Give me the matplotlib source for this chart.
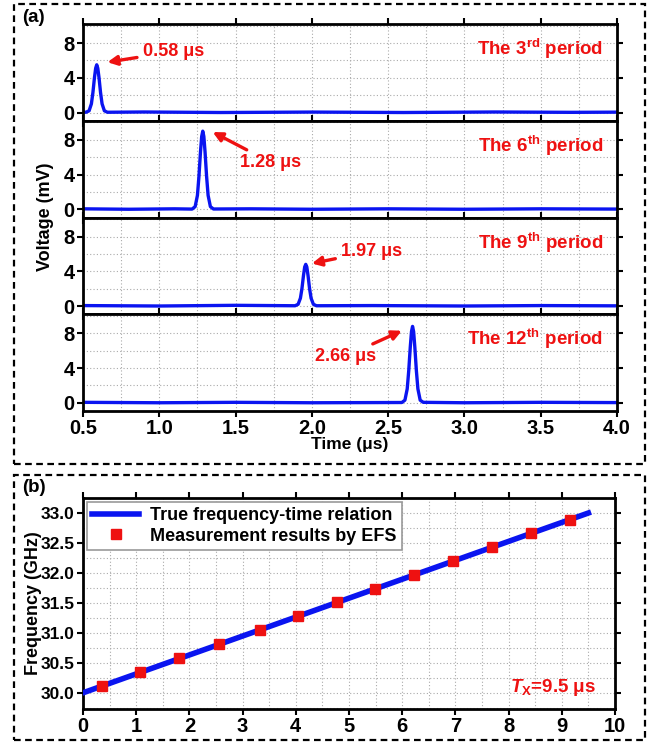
import matplotlib
matplotlib.use("Agg")
import matplotlib.pyplot as plt
from matplotlib.patches import Rectangle
from matplotlib.ticker import MultipleLocator, FormatStrFormatter

plt.rcParams['font.family'] = ['Liberation Sans', 'DejaVu Sans']
plt.rcParams['font.weight'] = 'bold'
plt.rcParams['mathtext.fontset'] = 'custom'
plt.rcParams['mathtext.rm'] = 'Liberation Sans:bold'
plt.rcParams['mathtext.bf'] = 'Liberation Sans:bold'
plt.rcParams['mathtext.it'] = 'Liberation Sans:bold:italic'

# Panel (a): received pulses in four periods
t_p3 = [0.50, 0.52, 0.54, 0.555, 0.565, 0.575, 0.583, 0.59, 0.597, 0.605, 0.615, 0.625, 0.64, 0.66,
        0.9, 1.4, 2.0, 2.6, 3.2, 3.7, 4.0]
v_p3 = [0.05, 0.03, 0.2, 1.0, 2.3, 4.0, 5.1, 5.5, 5.1, 4.0, 2.3, 1.0, 0.2, 0.03,
        0.06, 0.0, 0.05, 0.0, 0.06, 0.02, 0.04]
t_p6 = [0.5, 0.8, 1.1, 1.215, 1.235, 1.25, 1.26, 1.27, 1.278, 1.285, 1.292, 1.30, 1.31, 1.32, 1.335, 1.355,
        1.6, 2.0, 2.5, 3.0, 3.5, 4.0]
v_p6 = [0.05, 0.0, 0.05, 0.02, 0.3, 1.6, 3.8, 6.6, 8.4, 9.0, 8.4, 6.6, 3.8, 1.6, 0.3, 0.03,
        0.05, 0.0, 0.05, 0.0, 0.05, 0.02]
t_p9 = [0.5, 1.0, 1.5, 1.89, 1.91, 1.925, 1.935, 1.945, 1.953, 1.96, 1.967, 1.975, 1.985, 1.995, 2.01, 2.03,
        2.4, 3.0, 3.5, 4.0]
v_p9 = [0.05, 0.0, 0.08, 0.03, 0.2, 0.9, 2.0, 3.5, 4.5, 4.8, 4.5, 3.5, 2.0, 0.9, 0.2, 0.03,
        0.05, 0.0, 0.05, 0.02]
t_p12 = [0.5, 1.0, 1.5, 2.0, 2.59, 2.61, 2.625, 2.635, 2.645, 2.653, 2.66, 2.667, 2.675, 2.685, 2.695, 2.71, 2.73,
         3.0, 3.5, 4.0]
v_p12 = [0.05, 0.0, 0.05, 0.0, 0.03, 0.3, 1.6, 3.7, 6.4, 8.2, 8.8, 8.2, 6.4, 3.7, 1.6, 0.3, 0.05,
         0.0, 0.05, 0.02]

period_labels = [r'The 3$^{\mathrm{rd}}$ period', r'The 6$^{\mathrm{th}}$ period',
                 r'The 9$^{\mathrm{th}}$ period', r'The 12$^{\mathrm{th}}$ period']
peak_labels = ['0.58 μs', '1.28 μs', '1.97 μs', '2.66 μs']
arrow_heads = [(0.66, 5.8), (1.35, 8.9), (2.0, 4.9), (2.59, 8.3)]
label_pos = [(0.89, 7.0), (1.53, 5.4), (2.19, 6.3), (2.42, 5.35)]
label_ha = ['left', 'left', 'left', 'right']

# Panel (b): frequency vs time
true_t = [0.0, 9.5]
true_f = [30.0, 33.0]
meas_t = [0.35, 1.08, 1.81, 2.55, 3.32, 4.04, 4.77, 5.49, 6.22, 6.96, 7.68, 8.42, 9.15]
meas_f = [30.11, 30.35, 30.58, 30.81, 31.05, 31.28, 31.51, 31.74, 31.97, 32.20, 32.43, 32.66, 32.89]

W, H = 648, 743
fig = plt.figure(figsize=(W / 100, H / 100), dpi=100)

red = '#ee1111'
blue = '#0a14f0'

# dashed boxes around panels
for (x0, y0, x1, y1) in [(14, 4, 645, 464), (14, 475, 645, 740)]:
    fig.add_artist(Rectangle((x0 / W, 1 - y1 / H), (x1 - x0) / W, (y1 - y0) / H,
                             transform=fig.transFigure, fill=False, ls=(0, (3, 2)),
                             lw=1.6, ec='black'))

fig.text(22 / W, 1 - 18 / H, '(a)', fontsize=13.5, fontweight='bold', va='center', ha='left')
fig.text(22 / W, 1 - 488 / H, '(b)', fontsize=13.5, fontweight='bold', va='center', ha='left')

left = 83 / W
width = 534 / W
top_px, bot_px = 24, 411
ph = (bot_px - top_px) / 4
traces = [(t_p3, v_p3), (t_p6, v_p6), (t_p9, v_p9), (t_p12, v_p12)]

for i, (tt, vv) in enumerate(traces):
    y_top = top_px + i * ph
    ax = fig.add_axes([left, 1 - (y_top + ph) / H, width, ph / H])
    ax.plot(tt, vv, color=blue, lw=2.4)
    ax.set_xlim(0.5, 4.0)
    ax.set_ylim(-0.95, 10.2)
    ax.xaxis.set_major_locator(MultipleLocator(0.5))
    ax.xaxis.set_minor_locator(MultipleLocator(0.25))
    ax.yaxis.set_major_locator(MultipleLocator(4))
    ax.yaxis.set_minor_locator(MultipleLocator(2))
    ax.grid(True, which='both', ls=(0, (1, 2)), color='#aaaaaa', lw=0.8)
    ax.tick_params(which='major', direction='out', length=4, width=1.5, labelsize=14.5,
                   top=True, right=True, pad=2)
    ax.tick_params(which='minor', length=0)
    for s in ax.spines.values():
        s.set_linewidth(2)
    for lab in ax.get_yticklabels():
        lab.set_fontweight('bold')
    if i < 3:
        ax.tick_params(labelbottom=False)
    else:
        for lab in ax.get_xticklabels():
            lab.set_fontweight('bold')
        ax.set_xlabel('Time (μs)', fontsize=12.5, fontweight='bold', labelpad=-1)
    ax.text(0.974, 0.74, period_labels[i], transform=ax.transAxes, ha='right', va='center',
            color=red, fontsize=13.5, fontweight='bold')
    ax.annotate(peak_labels[i], xy=arrow_heads[i], xytext=label_pos[i],
                ha=label_ha[i], va='center', color=red, fontsize=13, fontweight='bold',
                arrowprops=dict(arrowstyle='-|>', color=red, lw=2.4, mutation_scale=14,
                                shrinkA=2, shrinkB=0))

fig.text(45 / W, 1 - 217 / H, 'Voltage (mV)', rotation=90, ha='center', va='center',
         fontsize=13, fontweight='bold')

# Panel (b)
axb = fig.add_axes([83 / W, 1 - 709 / H, 532 / W, 211 / H])
axb.plot(true_t, true_f, color=blue, lw=4, label='True frequency-time relation', zorder=3)
axb.plot(meas_t, meas_f, ls='none', marker='s', ms=7, color=red,
         label='Measurement results by EFS', zorder=4)
axb.set_xlim(0, 10)
axb.set_ylim(29.73, 33.25)
axb.xaxis.set_major_locator(MultipleLocator(1))
axb.xaxis.set_minor_locator(MultipleLocator(0.5))
axb.yaxis.set_major_locator(MultipleLocator(0.5))
axb.yaxis.set_minor_locator(MultipleLocator(0.25))
axb.grid(True, which='both', ls=(0, (1, 2)), color='#aaaaaa', lw=0.8)
axb.tick_params(which='major', direction='out', length=4, width=1.5, top=True, right=True, pad=2)
axb.tick_params(axis='x', labelsize=14.5)
axb.tick_params(axis='y', labelsize=12.5)
axb.tick_params(which='minor', length=0)
axb.yaxis.set_major_formatter(FormatStrFormatter('%.1f'))
for s in axb.spines.values():
    s.set_linewidth(2)
for lab in axb.get_xticklabels() + axb.get_yticklabels():
    lab.set_fontweight('bold')
axb.set_ylabel('Frequency (GHz)', fontsize=13, fontweight='bold')
axb.yaxis.set_label_coords(-0.078, 0.5)
leg = axb.legend(loc='upper left', fontsize=13, frameon=True, fancybox=False,
                 edgecolor='#999999', borderpad=0.3, handlelength=2.6, labelspacing=0.2,
                 borderaxespad=0.2, framealpha=1, handletextpad=0.6)
leg.get_frame().set_linewidth(1.2)
for txt in leg.get_texts():
    txt.set_fontweight('bold')
axb.text(0.965, 0.1, r'$T_{\mathrm{X}}$=9.5 μs', transform=axb.transAxes, ha='right',
         va='center', color=red, fontsize=13.5, fontweight='bold')

fig.savefig('out.png', dpi=100)
